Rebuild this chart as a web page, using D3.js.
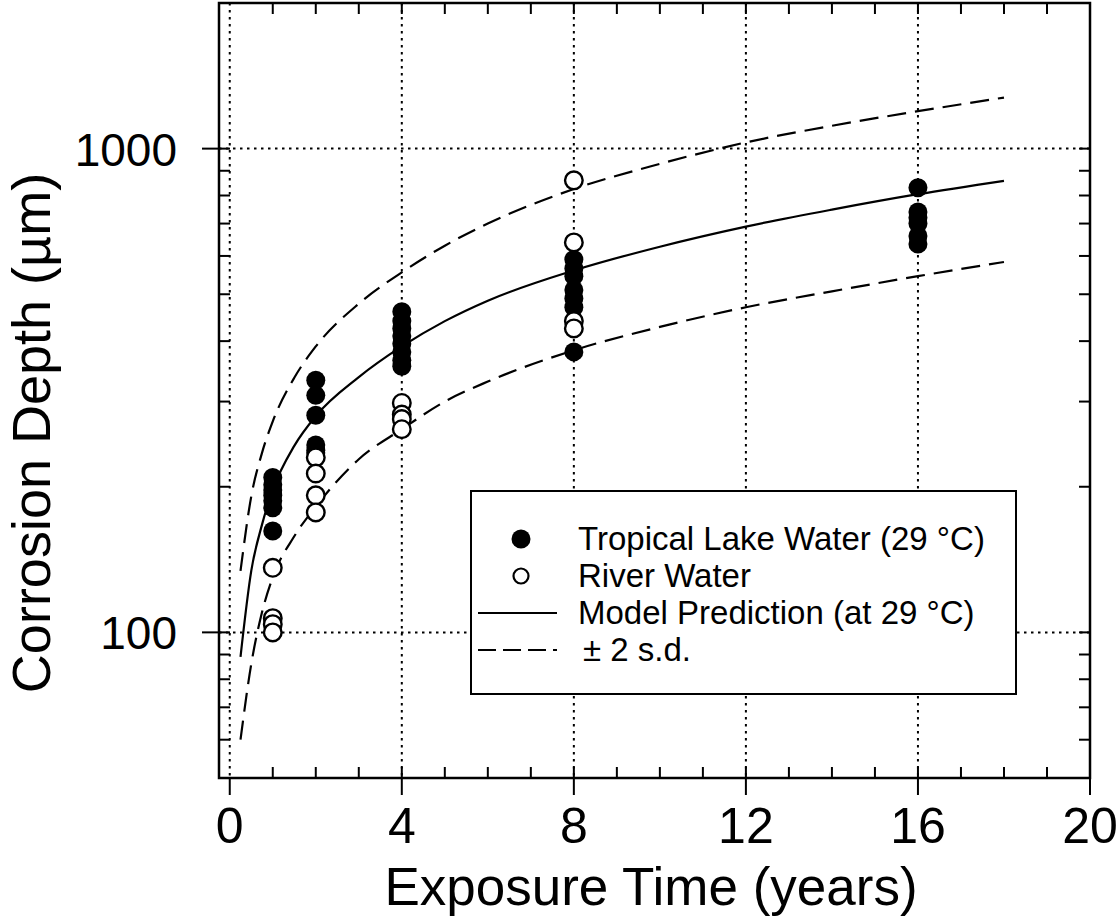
<!DOCTYPE html>
<html>
<head>
<meta charset="utf-8">
<script src="https://cdn.jsdelivr.net/npm/d3@7"></script>
<style>
body { margin: 0; background: #fff; }
svg { display: block; font-family: "Liberation Sans", Arial, sans-serif; }
</style>
</head>
<body>
<svg id="chart" width="1119" height="924"></svg>
<script>
// measured points
var lakeYears = [1, 1, 1, 1, 1, 1, 1, 2, 2, 2, 2, 2, 2, 4, 4, 4, 4, 4, 4, 4, 4, 8, 8, 8, 8, 8, 8, 8, 16, 16, 16, 16, 16, 16];
var lakeDepth = [209, 202, 197, 192, 187, 181, 162, 332, 309, 281, 244, 238, 235, 460, 440, 425, 410, 395, 380, 365, 355, 590, 565, 545, 510, 490, 470, 380, 830, 740, 720, 700, 660, 635];
var riverYears = [1, 1, 1, 1, 2, 2, 2, 2, 4, 4, 4, 4, 8, 8, 8, 8];
var riverDepth = [136, 107, 104, 100, 230, 213, 192, 177, 298, 282, 276, 263, 860, 640, 440, 425];

// curves
var curveYears = [0.25, 0.5, 0.75, 1, 1.5, 2, 3, 4, 5, 6, 8, 10, 12, 14, 16, 18];
var modelDepth = [89, 134, 167, 197, 243, 280, 337, 390, 440, 485, 560, 627, 690, 748, 805, 858];
var upperDepth = [134, 191, 235, 273, 336, 390, 478, 555, 630, 700, 825, 930, 1030, 1115, 1195, 1275];
var lowerDepth = [60, 86, 110, 130, 158, 182, 228, 263, 300, 330, 383, 428, 470, 507, 545, 583];

var xMajor = [0, 4, 8, 12, 16, 20];
var xMinor = [1, 2, 3, 5, 6, 7, 9, 10, 11, 13, 14, 15, 17, 18, 19];
var yMajor = [100, 1000];
var yMinor = [60, 70, 80, 90, 200, 300, 400, 500, 600, 700, 800, 900];

var legendLabels = ["Tropical Lake Water (29 \u00B0C)", "River Water", "Model Prediction (at 29 \u00B0C)", "\u00B1 2 s.d."];

var svg = d3.select("#chart");
var pL = 219, pR = 1090, pT = 3, pB = 778;

var x = d3.scaleLinear().domain([-0.25, 20]).range([pL, pR]);
var y = d3.scaleLog().domain([50, 2000]).range([pB, pT]);

// grid
var grid = svg.append("g")
    .attr("stroke", "#000")
    .attr("stroke-width", 2)
    .attr("stroke-dasharray", "2.5,4.5");
grid.selectAll(".gx").data(xMajor.filter(function (d) { return d < 20; })).enter()
    .append("line")
    .attr("x1", function (d) { return x(d); })
    .attr("x2", function (d) { return x(d); })
    .attr("y1", pT)
    .attr("y2", pB);
grid.selectAll(".gy").data(yMajor).enter()
    .append("line")
    .attr("x1", pL)
    .attr("x2", pR)
    .attr("y1", function (d) { return y(d); })
    .attr("y2", function (d) { return y(d); });

// ticks
var ticks = svg.append("g").attr("stroke", "#000").attr("stroke-width", 2);
var inner = 11, outer = 17;
var allX = xMinor.concat(xMajor.filter(function (d) { return d > 0 && d < 20; }));
ticks.selectAll(".tb").data(allX).enter().append("line")
    .attr("x1", function (d) { return x(d); }).attr("x2", function (d) { return x(d); })
    .attr("y1", pB).attr("y2", pB - inner);
ticks.selectAll(".tt").data(allX).enter().append("line")
    .attr("x1", function (d) { return x(d); }).attr("x2", function (d) { return x(d); })
    .attr("y1", pT).attr("y2", pT + inner);
ticks.selectAll(".tbo").data(xMajor).enter().append("line")
    .attr("x1", function (d) { return x(d); }).attr("x2", function (d) { return x(d); })
    .attr("y1", pB).attr("y2", pB + outer);
var allY = yMinor.concat(yMajor);
ticks.selectAll(".tl").data(allY).enter().append("line")
    .attr("y1", function (d) { return y(d); }).attr("y2", function (d) { return y(d); })
    .attr("x1", pL).attr("x2", pL + inner);
ticks.selectAll(".tr").data(allY).enter().append("line")
    .attr("y1", function (d) { return y(d); }).attr("y2", function (d) { return y(d); })
    .attr("x1", pR).attr("x2", pR - inner);
ticks.selectAll(".tlo").data(yMajor).enter().append("line")
    .attr("y1", function (d) { return y(d); }).attr("y2", function (d) { return y(d); })
    .attr("x1", pL).attr("x2", pL - outer);

// frame
svg.append("rect")
    .attr("x", pL).attr("y", pT)
    .attr("width", pR - pL).attr("height", pB - pT)
    .attr("fill", "none").attr("stroke", "#000").attr("stroke-width", 2.5);

// tick labels
svg.append("g").selectAll("text").data(xMajor).enter()
    .append("text")
    .attr("x", function (d) { return x(d); })
    .attr("y", 843)
    .attr("text-anchor", "middle")
    .attr("font-size", "50px")
    .text(function (d) { return d; });
svg.append("g").selectAll("text").data(yMajor).enter()
    .append("text")
    .attr("x", 177)
    .attr("y", function (d) { return y(d) + 17; })
    .attr("text-anchor", "end")
    .attr("font-size", "46px")
    .text(function (d) { return d; });

// axis titles
svg.append("text")
    .attr("x", 651)
    .attr("y", 905)
    .attr("text-anchor", "middle")
    .attr("font-size", "53px")
    .text("Exposure Time (years)");
svg.append("text")
    .attr("transform", "translate(50,433) rotate(-90)")
    .attr("text-anchor", "middle")
    .attr("font-size", "54px")
    .text("Corrosion Depth (\u00B5m)");

// curves
var line = d3.line()
    .x(function (d) { return x(d[0]); })
    .y(function (d) { return y(d[1]); })
    .curve(d3.curveMonotoneX);
function pairs(vals) { return curveYears.map(function (t, i) { return [t, vals[i]]; }); }

svg.append("path").attr("d", line(pairs(modelDepth)))
    .attr("fill", "none").attr("stroke", "#000").attr("stroke-width", 2.2);
[upperDepth, lowerDepth].forEach(function (vals) {
    svg.append("path").attr("d", line(pairs(vals)))
        .attr("fill", "none").attr("stroke", "#000").attr("stroke-width", 2.2)
        .attr("stroke-dasharray", "19,9");
});

// points
svg.append("g").selectAll("circle").data(lakeDepth).enter()
    .append("circle")
    .attr("cx", function (d, i) { return x(lakeYears[i]); })
    .attr("cy", function (d) { return y(d); })
    .attr("r", 9.5)
    .attr("fill", "#000");
svg.append("g").selectAll("circle").data(riverDepth).enter()
    .append("circle")
    .attr("cx", function (d, i) { return x(riverYears[i]); })
    .attr("cy", function (d) { return y(d); })
    .attr("r", 8.8)
    .attr("fill", "#fff")
    .attr("stroke", "#000")
    .attr("stroke-width", 2.4);

// legend
var lg = svg.append("g");
lg.append("rect")
    .attr("x", 471).attr("y", 491)
    .attr("width", 545).attr("height", 203)
    .attr("fill", "#fff").attr("stroke", "#000").attr("stroke-width", 2);
var rowY = [539, 576, 613, 650];
lg.selectAll("text").data(legendLabels).enter()
    .append("text")
    .attr("x", function (d, i) { return i == 3 ? 583 : 578; })
    .attr("y", function (d, i) { return rowY[i] + 11; })
    .attr("font-size", "33px")
    .text(function (d) { return d; });
lg.append("circle").attr("cx", 521).attr("cy", rowY[0]).attr("r", 9.5).attr("fill", "#000");
lg.append("circle").attr("cx", 521).attr("cy", rowY[1]).attr("r", 7.5)
    .attr("fill", "#fff").attr("stroke", "#000").attr("stroke-width", 2.2);
lg.append("line").attr("x1", 478).attr("x2", 557).attr("y1", rowY[2]).attr("y2", rowY[2])
    .attr("stroke", "#000").attr("stroke-width", 2);
lg.append("line").attr("x1", 478).attr("x2", 557).attr("y1", rowY[3]).attr("y2", rowY[3])
    .attr("stroke", "#000").attr("stroke-width", 2).attr("stroke-dasharray", "18,7");
</script>
</body>
</html>
